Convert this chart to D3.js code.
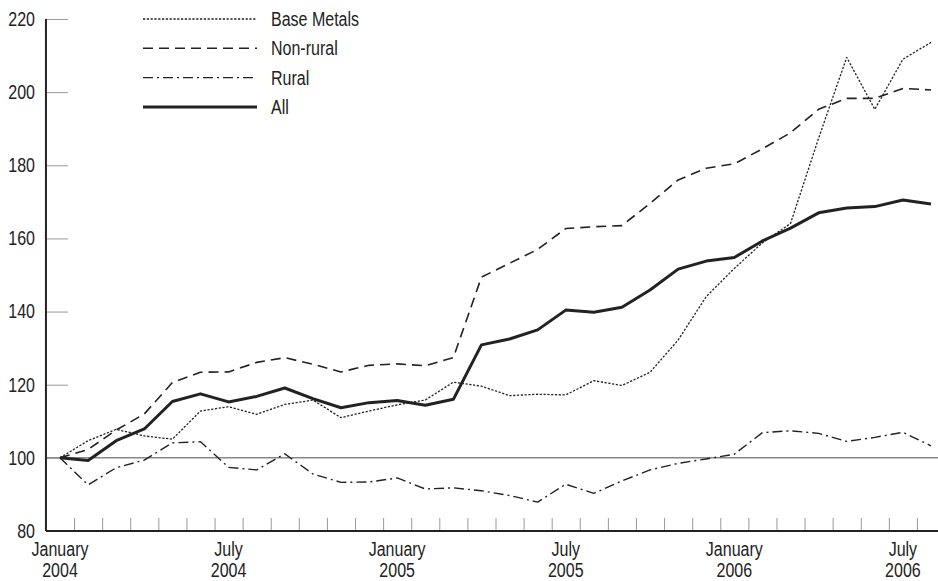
<!DOCTYPE html>
<html>
<head>
<meta charset="utf-8">
<script src="https://cdn.jsdelivr.net/npm/d3@7"></script>
<style>
  body { margin: 0; background: #fff; }
  text { font-family: "Liberation Sans", Arial, sans-serif; font-size: 20px; fill: #222; }
</style>
</head>
<body>
<div class="chart"></div>
<script>
// monthly index, January 2004 = 100
const months = d3.range(32).map(i => new Date(2004, i, 15));

const baseMetals = [100,104.7,107.8,106.0,105.1,112.8,114.0,111.9,114.6,115.8,111.0,112.8,
  114.5,115.8,120.7,119.6,117.0,117.4,117.2,121.1,119.8,123.4,132.2,144.1,
  151.8,158.8,164.1,187.4,209.5,195.3,209.0,213.6];
const nonRural = [100,102.3,107.6,112.0,120.6,123.4,123.5,126.1,127.4,125.6,123.5,125.3,
  125.7,125.2,127.4,149.4,153.2,157.0,162.7,163.2,163.5,169.6,176.0,179.2,
  180.4,184.5,188.9,195.3,198.3,198.3,201.0,200.6];
const rural = [100,92.6,97.3,99.4,104.1,104.4,97.4,96.7,101.1,95.6,93.3,93.4,
  94.5,91.5,91.8,91.0,89.7,87.9,92.8,90.3,93.7,96.7,98.5,99.7,
  101.0,106.9,107.4,106.7,104.5,105.6,107.0,103.3];
const all = [100,99.3,104.7,107.9,115.4,117.5,115.3,116.8,119.1,116.2,113.7,115.1,
  115.7,114.4,116.0,130.9,132.5,135.0,140.4,139.8,141.2,145.9,151.6,153.8,
  154.8,159.3,162.8,167.0,168.3,168.7,170.5,169.4];

const yTicks = [80, 100, 120, 140, 160, 180, 200, 220];
const xLabelIdx = [0, 6, 12, 18, 24, 30];
const xLabels = [["January","2004"],["July","2004"],["January","2005"],["July","2005"],["January","2006"],["July","2006"]];

const series = [
  { name: "Base Metals", values: baseMetals, dash: "2.2,1.6", w: 1.3 },
  { name: "Non-rural", values: nonRural, dash: "10,6", w: 1.6 },
  { name: "Rural", values: rural, dash: "10,4,2,4", w: 1.4 },
  { name: "All", values: all, dash: null, w: 3 }
];

const width = 938, height = 581;
const narrow = 0.8; // no narrow face installed, squeeze the regular one
const svg = d3.select(".chart").append("svg")
  .attr("width", width)
  .attr("height", height);

const x = d3.scaleLinear().domain([0, 31]).range([60, 931]);
const y = d3.scaleLinear().domain([80, 220]).range([531, 19]);

// reference line at 100
svg.append("line")
  .attr("x1", x(-0.5)).attr("x2", width)
  .attr("y1", y(100)).attr("y2", y(100))
  .attr("stroke", "#888").attr("stroke-width", 1.5);

// y axis
const yAxis = d3.axisLeft(y).tickValues(yTicks).tickSize(-22).tickPadding(11);
const gy = svg.append("g").attr("transform", `translate(${x(-0.5)},0)`).call(yAxis);
gy.select(".domain").remove();
gy.selectAll(".tick line").attr("stroke", "#999").attr("stroke-width", 1);
gy.selectAll(".tick text")
  .attr("font-size", 20).attr("fill", "#222")
  .style("font-family", "'Liberation Sans', Arial, sans-serif")
  .each(function() {
    const t = d3.select(this);
    const tx = +t.attr("x");
    t.attr("x", 0).attr("transform", `translate(${tx},0) scale(${narrow},1)`);
  });
svg.append("line")
  .attr("x1", x(-0.5)).attr("x2", x(-0.5))
  .attr("y1", y(220)).attr("y2", y(80))
  .attr("stroke", "#222").attr("stroke-width", 2);

// x axis minor ticks between months
const xAxis = d3.axisBottom(x)
  .tickValues(d3.range(0.5, 31, 1))
  .tickSize(-13).tickFormat("");
const gx = svg.append("g").attr("transform", `translate(0,${y(80)})`).call(xAxis);
gx.select(".domain").remove();
gx.selectAll(".tick line").attr("stroke", "#999").attr("stroke-width", 1);
svg.append("line")
  .attr("x1", x(-0.5)).attr("x2", width)
  .attr("y1", y(80)).attr("y2", y(80))
  .attr("stroke", "#222").attr("stroke-width", 2);

// x labels, two lines
const lab = svg.append("g").selectAll("text")
  .data(xLabelIdx)
  .join("text")
  .attr("text-anchor", "middle")
  .attr("transform", d => `translate(${x(d)},556) scale(${narrow},1)`);
lab.append("tspan").attr("x", 0).text((d, i) => xLabels[i][0]);
lab.append("tspan").attr("x", 0).attr("dy", 21).text((d, i) => xLabels[i][1]);

// lines
const line = d3.line()
  .x((d, i) => x(i))
  .y(d => y(d));

svg.append("g").selectAll("path")
  .data(series)
  .join("path")
  .attr("d", d => line(d.values))
  .attr("fill", "none")
  .attr("stroke", "#222")
  .attr("stroke-width", d => d.w)
  .attr("stroke-dasharray", d => d.dash)
  .attr("stroke-linejoin", "round");

// legend
const leg = svg.append("g").selectAll("g")
  .data(series)
  .join("g")
  .attr("transform", (d, i) => `translate(0,${19 + i * 29.3})`);
leg.append("line")
  .attr("x1", 143).attr("x2", 257)
  .attr("stroke", "#222")
  .attr("stroke-width", d => d.w)
  .attr("stroke-dasharray", d => d.dash);
leg.append("text")
  .attr("transform", `translate(271,7) scale(${narrow},1)`)
  .text(d => d.name);
</script>
</body>
</html>
